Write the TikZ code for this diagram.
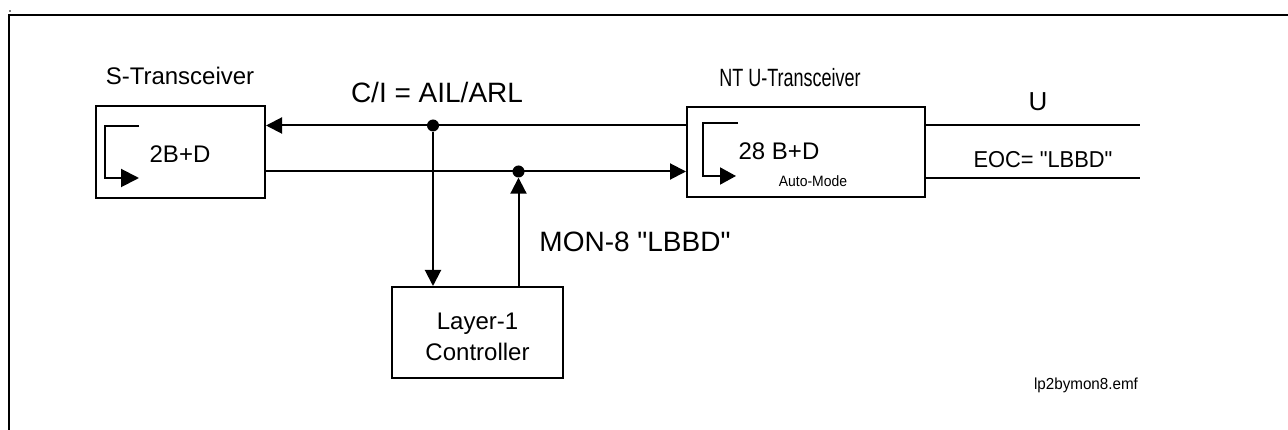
\documentclass[tikz,border=0pt]{standalone}
\usepackage{fontspec}
\setmainfont{Liberation Sans}[Ligatures=TeXOff]
\usetikzlibrary{arrows.meta,calc}
\tikzset{
  box/.style={draw, line width=2pt, inner sep=0pt},
  wire/.style={line width=2pt},
  arr/.style={wire, -{Triangle[length=16pt,width=16pt]}},
  junc/.style={circle, fill, inner sep=0pt, minimum width=11pt, minimum height=12pt},
  lbl/.style={inner sep=0pt, anchor=base},
  big/.style={lbl, font=\fontsize{28}{32}\selectfont},
  mid/.style={lbl, font=\fontsize{24}{28}\selectfont},
  small/.style={lbl, font=\fontsize{15}{18}\selectfont},
}
\begin{document}
\begin{tikzpicture}[x=1pt,y=-1pt]
\useasboundingbox (0,0) rectangle (1288,430);
% frame
\draw[wire] (1295,15.5) -- (8.5,15.5) -- (8.5,440);
\fill (10,11) circle (0.8);

% boxes
\node[box, minimum width=169pt, minimum height=92pt] (S) at (180.5,152) {};
\node[box, minimum width=238pt, minimum height=90pt] (NT) at (806,152) {};
\node[box, minimum width=171pt, minimum height=91pt] (L) at (477.5,332.5) {};

% labels
\node[mid] (Slbl) at (180,85) {S-Transceiver};
\node[lbl, font=\fontsize{25}{29}\selectfont] (NTlbl) at (790,87) {\scalebox{0.72}[1]{NT U-Transceiver}};
\node[mid] (Sin) at (180,163) {2B+D};
\node[mid] (NTin) at (779,160) {28 B+D};
\node[small] (auto) at (813,187) {\scalebox{0.93}[1]{Auto-Mode}};
\node[big] (ci) at (437,103) {C/I = AIL/ARL};
\node[big] (mon) at (635,252) {MON-8 "LBBD"};
\node[lbl, font=\fontsize{26}{30}\selectfont] (U) at (1038,111) {U};
\node[lbl, font=\fontsize{23}{28}\selectfont] (eoc) at (1043,168) {\scalebox{0.95}[1]{EOC= "LBBD"}};
\node[mid] (L1) at (477.5,330) {Layer-1};
\node[mid] (L2) at (477.5,360) {Controller};
\node[lbl, font=\fontsize{16}{19}\selectfont] (file) at (1086,389.5) {\scalebox{0.95}[1]{lp2bymon8.emf}};

% inner loop-back brackets
\draw[wire] (139,126) -- (105,126) -- (105,178);
\draw[wire, -{Triangle[length=18pt,width=18pt]}] (104,178) -- (139,178);
\draw[wire] (738,123) -- (703,123) -- (703,176);
\draw[wire, -{Triangle[length=16pt,width=17pt]}] (702,176) -- (736,176);

% junctions
\node[junc] (jci) at (433,125.5) {};
\node[junc] (jmon) at (518.5,171.5) {};

% connectors
\draw[arr] (NT.west |- jci) -- (S.east |- jci);
\draw[arr] (S.east |- jmon) -- (NT.west |- jmon);
\draw[arr] (jci) -- (L.north -| jci);
\draw[arr] (L.north -| jmon) -- (jmon);

% U interface lines
\coordinate (u1) at (1140,125.5);
\coordinate (u2) at (1140,178);
\draw[wire] (NT.east |- u1) -- (u1);
\draw[wire] (NT.east |- u2) -- (u2);
\end{tikzpicture}
\end{document}
